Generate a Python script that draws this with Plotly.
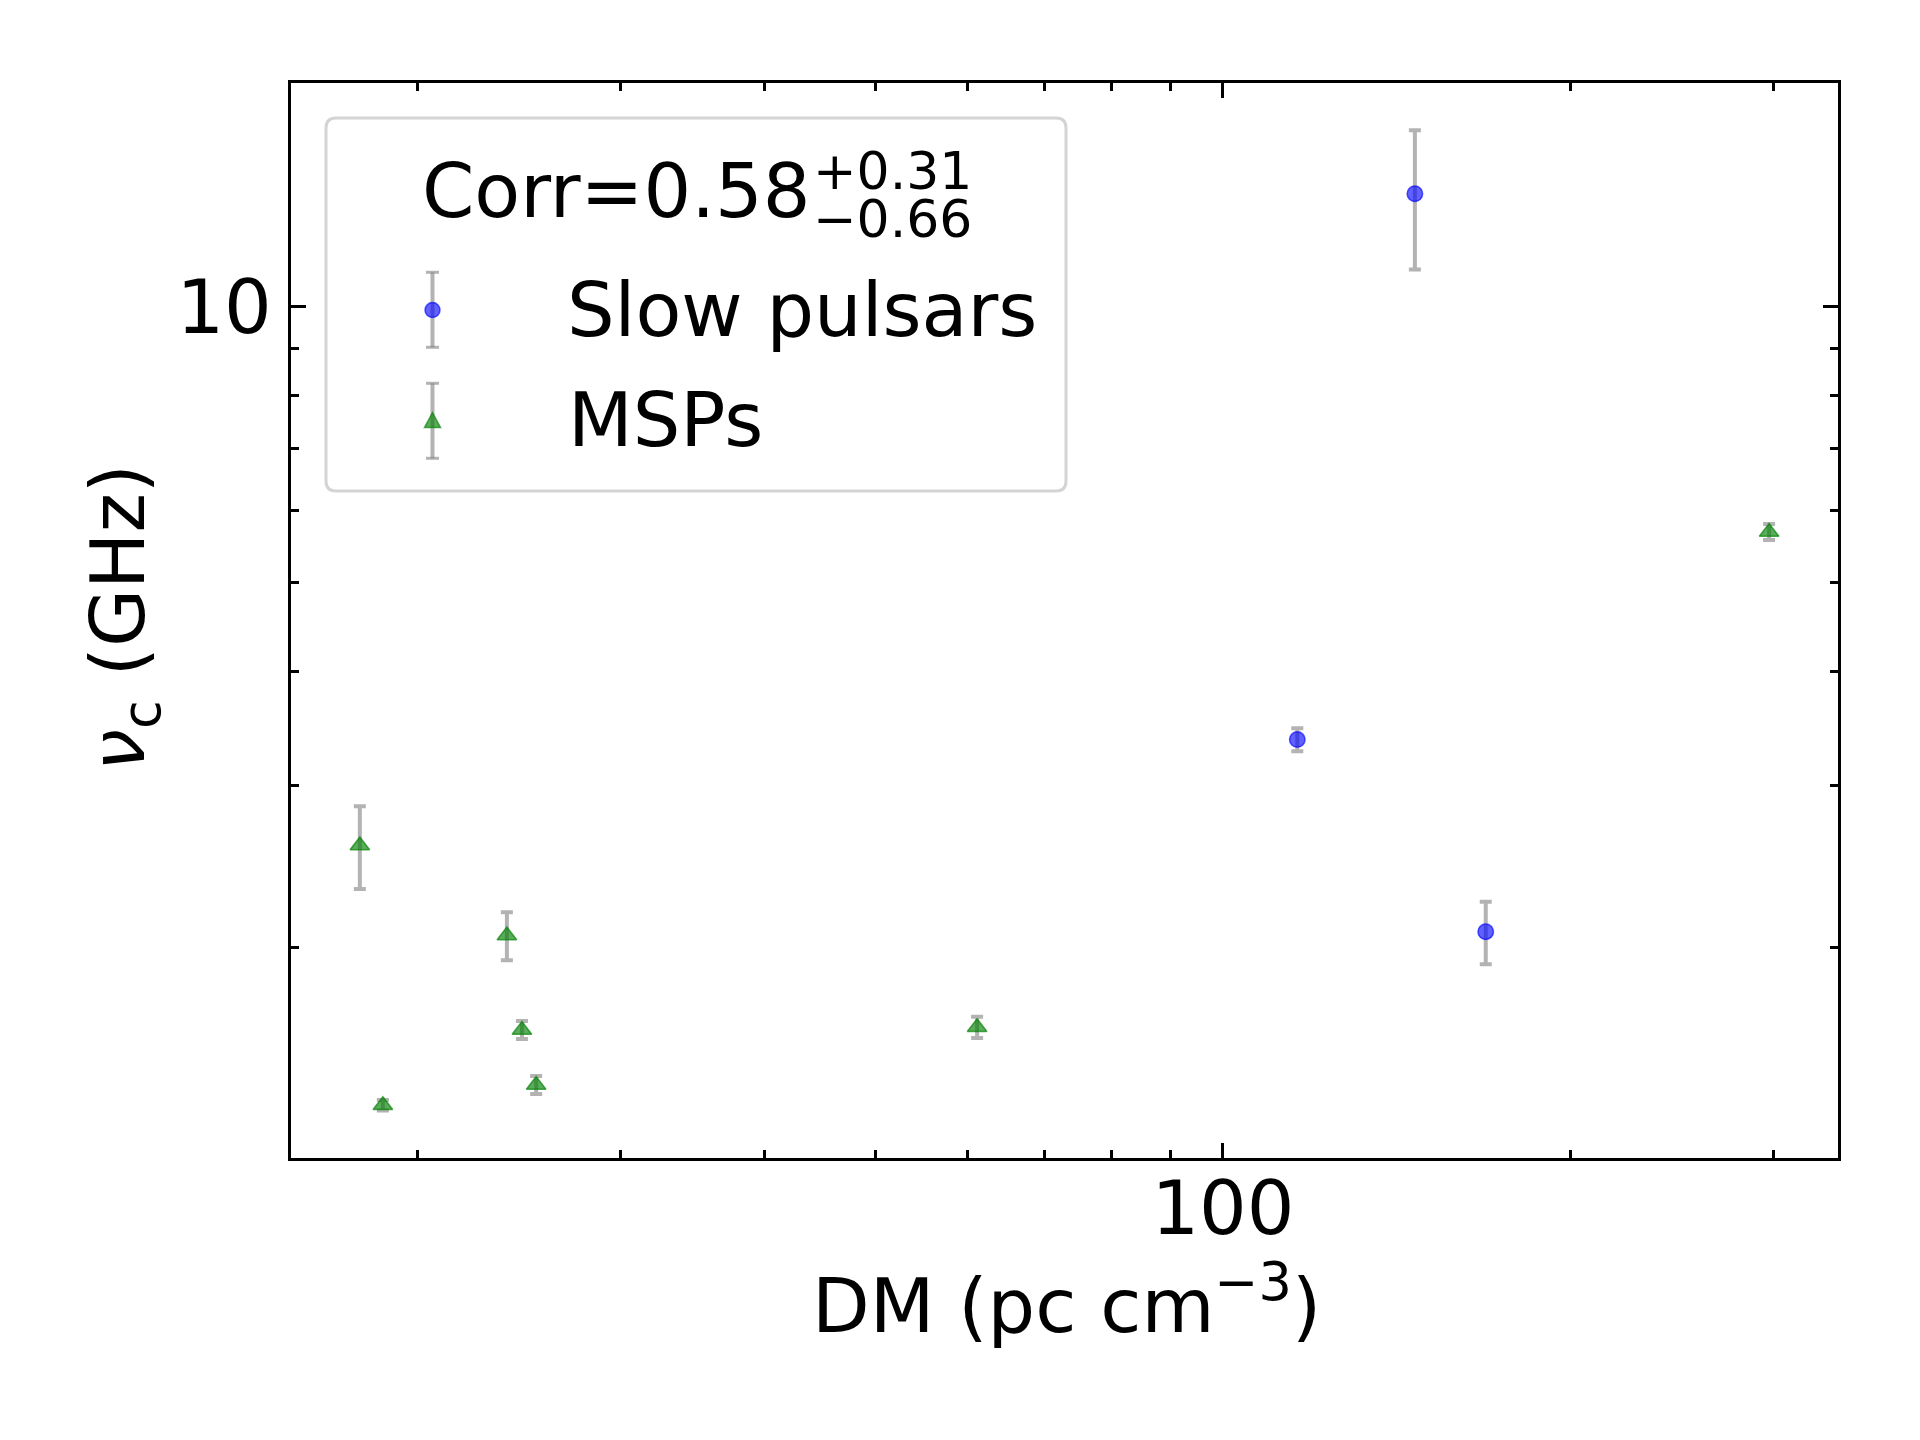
import plotly.graph_objects as go

# ---------------- data ----------------
dm_slow = [116.0, 146.7, 169.0]
nu_slow = [3.370, 13.28, 2.080]
err_slow = [0.097, 2.30, 0.163]

dm_msp = [17.84, 18.68, 23.93, 24.66, 25.37, 61.2, 297.6]
nu_msp = [2.583, 1.345, 2.060, 1.625, 1.415, 1.636, 5.678]
err_msp = [0.268, 0.018, 0.124, 0.037, 0.032, 0.044, 0.115]

x_major_ticks = [100]
x_major_labels = ["100"]
x_minor_ticks = [20, 30, 40, 50, 60, 70, 80, 90, 200, 300]
y_major_ticks = [10]
y_major_labels = ["10"]
y_minor_ticks = [2, 3, 4, 5, 6, 7, 8, 9]

corr_text = "Corr=0.58"
corr_plus = "+0.31"
corr_minus = "\u22120.66"
series_names = ["Slow pulsars", "MSPs"]

# ---------------- layout geometry ----------------
FIG_W, FIG_H = 1920, 1440
ML, MR, MT, MB = 291, 82, 83, 282
PW = FIG_W - ML - MR
PH = FIG_H - MT - MB
FONT = "DejaVu Sans"
FS = 75


def px(x):
    return (x - ML) / PW


def py(y):
    return (FIG_H - MB - y) / PH


ERR_COLOR = "rgba(128,128,128,0.6)"
BLUE_F = "rgba(0,0,255,0.62)"
BLUE_E = "rgba(0,0,255,0.62)"
GREEN_F = "rgba(0,128,0,0.65)"
GREEN_E = "rgba(0,128,0,0.65)"

fig = go.Figure()

fig.add_trace(go.Scatter(
    x=dm_slow, y=nu_slow, mode="markers", name=series_names[0],
    marker=dict(symbol="circle", size=15.5, color=BLUE_F,
                line=dict(color=BLUE_E, width=1.5)),
    error_y=dict(type="data", array=err_slow, color=ERR_COLOR,
                 thickness=4, width=6),
    showlegend=False,
))
fig.add_trace(go.Scatter(
    x=dm_msp, y=nu_msp, mode="markers", name=series_names[1],
    marker=dict(symbol="triangle-up", size=17, color=GREEN_F,
                line=dict(color=GREEN_E, width=1.5)),
    error_y=dict(type="data", array=err_msp, color=ERR_COLOR,
                 thickness=4, width=6),
    showlegend=False,
))

axis_common = dict(
    type="log", showline=True, linecolor="black", linewidth=3.3,
    mirror="ticks", ticks="inside", ticklen=14.6, tickwidth=3.3,
    tickcolor="black", showgrid=False, zeroline=False,
    tickfont=dict(family=FONT, size=FS, color="black"),
)

fig.update_xaxes(
    range=[1.1917, 2.5334], tickmode="array",
    tickvals=x_major_ticks, ticktext=x_major_labels,
    minor=dict(ticks="inside", ticklen=8.3, tickwidth=2.5,
               tickcolor="black", tickmode="array",
               tickvals=x_minor_ticks, showgrid=False),
    ticklabelstandoff=-17,
    **axis_common,
)
fig.update_yaxes(
    range=[0.0711, 1.2441], tickmode="array",
    tickvals=y_major_ticks, ticktext=y_major_labels,
    minor=dict(ticks="inside", ticklen=8.3, tickwidth=2.5,
               tickcolor="black", tickmode="array",
               tickvals=y_minor_ticks, showgrid=False),
    ticklabelstandoff=1,
    **axis_common,
)

shapes = []
annotations = []

# legend frame (rounded rectangle)
bx0, by0, bx1, by1, rad = 326, 118, 1066, 491, 10
rx, ry = rad / PW, rad / PH
X0, X1, Y0, Y1 = px(bx0), px(bx1), py(by0), py(by1)
path = (f"M{X0+rx},{Y0} L{X1-rx},{Y0} Q{X1},{Y0} {X1},{Y0-ry} "
        f"L{X1},{Y1+ry} Q{X1},{Y1} {X1-rx},{Y1} "
        f"L{X0+rx},{Y1} Q{X0},{Y1} {X0},{Y1+ry} "
        f"L{X0},{Y0-ry} Q{X0},{Y0} {X0+rx},{Y0} Z")
shapes.append(dict(type="path", path=path, xref="paper", yref="paper",
                   fillcolor="rgba(255,255,255,0.8)",
                   line=dict(color="rgba(204,204,204,0.85)", width=3),
                   layer="above"))

# legend handles
hx = 432.5
cap = 6.5
entries = [(310, 272.3, 347.3, "circle"), (420, 383.3, 458.3, "triangle")]
for cy, ytop, ybot, kind in entries:
    shapes.append(dict(type="line", xref="paper", yref="paper",
                       x0=px(hx), x1=px(hx), y0=py(ytop), y1=py(ybot),
                       line=dict(color=ERR_COLOR, width=4), layer="above"))
    for yy in (ytop, ybot):
        shapes.append(dict(type="line", xref="paper", yref="paper",
                           x0=px(hx - cap), x1=px(hx + cap), y0=py(yy), y1=py(yy),
                           line=dict(color=ERR_COLOR, width=3), layer="above"))
    if kind == "circle":
        r = 7.5
        shapes.append(dict(type="circle", xref="paper", yref="paper",
                           x0=px(hx - r), x1=px(hx + r), y0=py(cy - r), y1=py(cy + r),
                           fillcolor=BLUE_F, line=dict(color=BLUE_E, width=1.5),
                           layer="above"))
    else:
        h = 7.5
        tp = (f"M{px(hx)},{py(cy - h)} L{px(hx - 8)},{py(cy + h)} "
              f"L{px(hx + 8)},{py(cy + h)} Z")
        shapes.append(dict(type="path", path=tp, xref="paper", yref="paper",
                           fillcolor=GREEN_F, line=dict(color=GREEN_E, width=1.5),
                           layer="above"))


def ann(text, x, y, size=FS, xanchor="left", yanchor="middle", angle=0):
    annotations.append(dict(
        text=text, x=px(x), y=py(y), xref="paper", yref="paper",
        xanchor=xanchor, yanchor=yanchor, showarrow=False, textangle=angle,
        font=dict(family=FONT, size=size, color="black"),
    ))


ann(corr_text, 420, 191.3)
ann(corr_plus, 811, 171, size=52)
ann(corr_minus, 811, 219.3, size=52)
ann(series_names[0], 565, 310)
ann(series_names[1], 566, 420)

# axis titles
ann("DM (pc cm<sup>\u22123</sup>)", 1066, 1300, xanchor="center")
ann("<i>\u03bd</i><sub>c</sub> (GHz)", 123, 618, xanchor="center", angle=-90)

fig.update_layout(
    width=FIG_W, height=FIG_H,
    margin=dict(l=ML, r=MR, t=MT, b=MB, pad=0),
    paper_bgcolor="white", plot_bgcolor="white",
    shapes=shapes, annotations=annotations,
    showlegend=False,
    font=dict(family=FONT, color="black"),
)

fig.write_html("out.html")
